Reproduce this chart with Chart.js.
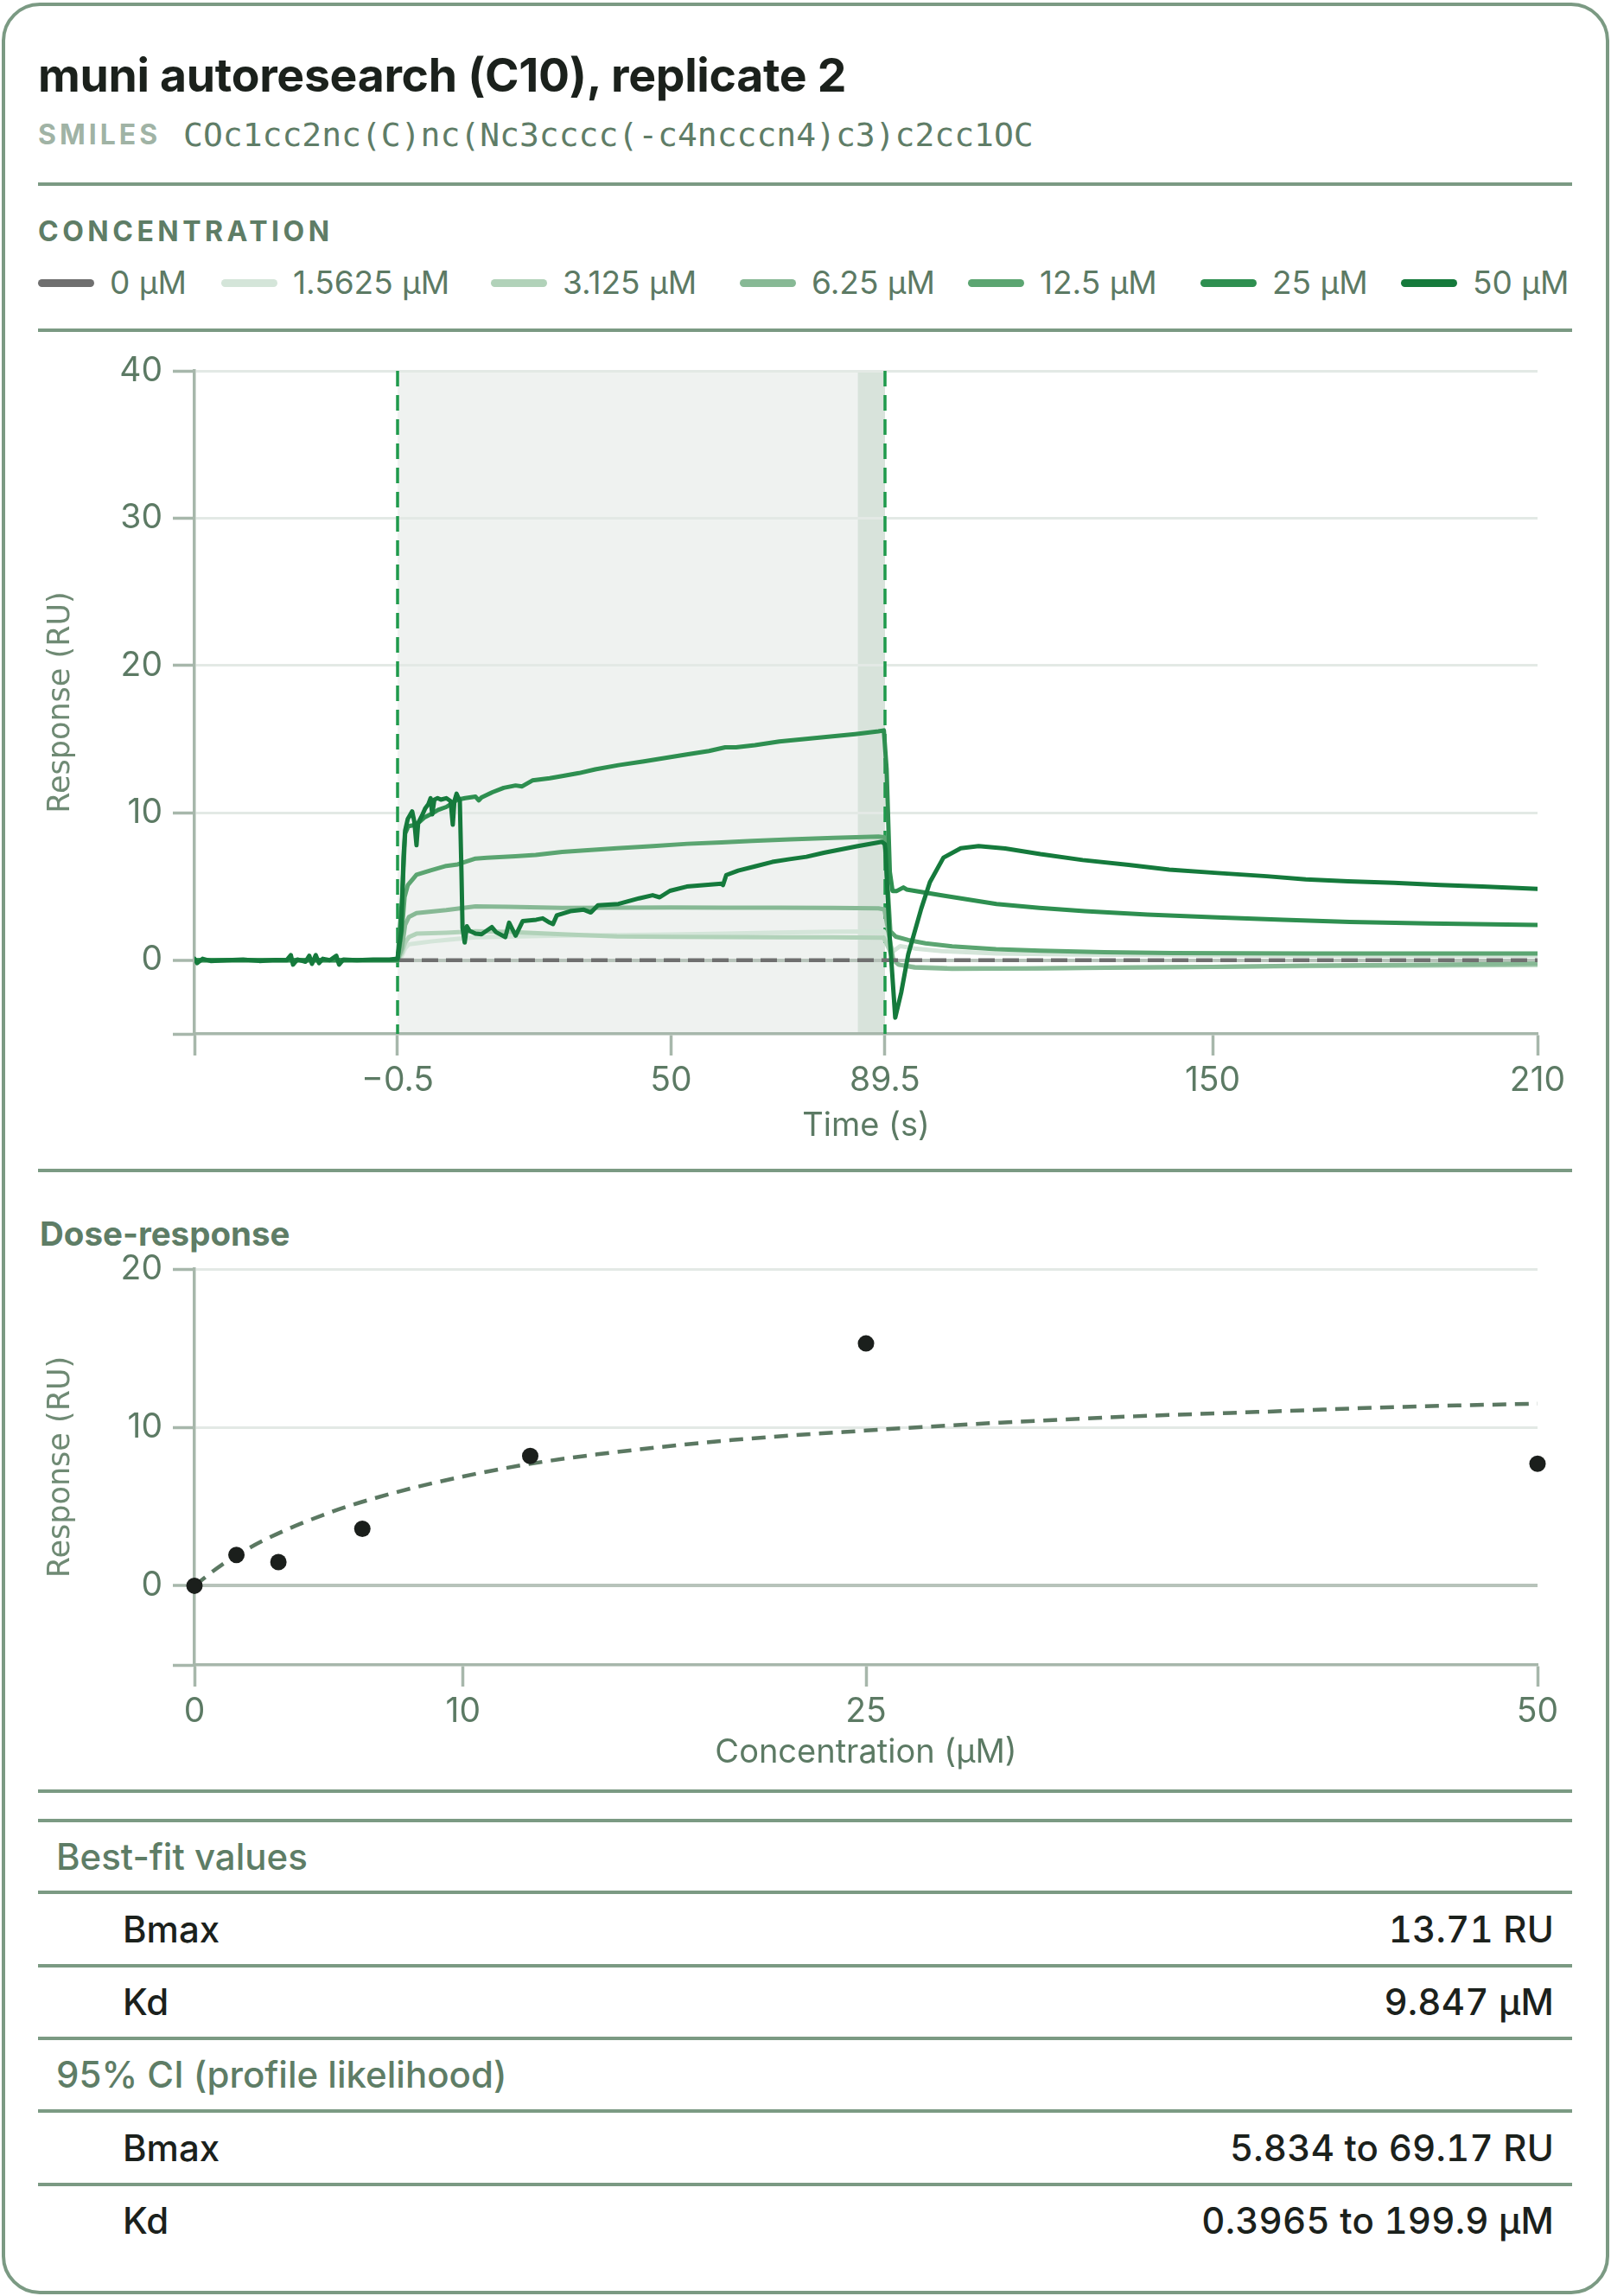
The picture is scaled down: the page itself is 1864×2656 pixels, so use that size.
<!DOCTYPE html>
<html>
<head>
<meta charset="utf-8">
<title>muni autoresearch (C10), replicate 2</title>
<script src="https://cdn.jsdelivr.net/npm/chart.js@4.4.1/dist/chart.umd.min.js"></script>
<style>
  html, body { margin: 0; padding: 0; background: #fff; }
  #page { position: relative; width: 1864px; height: 2656px; overflow: hidden; font-family: Inter, "Noto Sans", sans-serif; }
  .card { position: absolute; left: 2px; top: 3px; width: 1860px; height: 2651px; box-sizing: border-box;
          border: 4px solid #7b9a83; border-radius: 44px; }
  .rule { position: absolute; left: 44px; width: 1775px; height: 4px; background: #7b9a83; }
  .txt { position: absolute; line-height: 1; white-space: nowrap; }
  .title { left: 44px; top: 60px; font-size: 53.5px; font-weight: 700; color: #1b211c; letter-spacing: -0.3px; }
  .smiles-tag { left: 44px; top: 140px; font-size: 32px; font-weight: 700; color: #a0b3a5; letter-spacing: 4px; }
  .smiles { left: 212px; top: 137px; font-size: 38px; font-family: "DejaVu Sans Mono", monospace; color: #5f7d67; }
  .section { font-weight: 700; color: #5e7d66; }
  .swatch { position: absolute; width: 65px; height: 9px; border-radius: 5px; }
  .legend-txt { font-size: 37px; color: #5c7a64; }
  canvas { position: absolute; left: 0; }
  .tbl-head { left: 65px; font-size: 42px; font-weight: 500; color: #5e7d66; }
  .tbl-key { left: 142px; font-size: 42px; font-weight: 500; color: #1b211c; }
  .tbl-val { right: 66px; font-size: 42px; font-weight: 500; color: #1b211c; text-align: right; font-variant-numeric: tabular-nums; letter-spacing: 0.2px; }
</style>
</head>
<body>
<div id="page">
  <div class="card"></div>
  <div class="txt title">muni autoresearch (C10), replicate 2</div>
  <div class="txt smiles-tag">SMILES</div>
  <div class="txt smiles">COc1cc2nc(C)nc(Nc3cccc(-c4ncccn4)c3)c2cc1OC</div>
  <div class="rule" style="top:211px"></div>
  <div class="txt section" style="left:44px; top:252px; font-size:32px; letter-spacing:4.5px;">CONCENTRATION</div>
  <div id="legend"></div>
  <div class="rule" style="top:380px"></div>
  <canvas id="sensorgram" width="1864" height="964" style="top:390px"></canvas>
  <div class="rule" style="top:1352px"></div>
  <div class="txt section" style="left:46px; top:1408px; font-size:38.5px;">Dose-response</div>
  <canvas id="doseResponse" width="1864" height="672" style="top:1400px"></canvas>
  <div id="fitTable"></div>
</div>

<script>
// ─── Sensorgram data ───────────────────────────────────────────────────────
const concLabels = ['0 µM', '1.5625 µM', '3.125 µM', '6.25 µM', '12.5 µM', '25 µM', '50 µM'];

const timeTicks = [-38, -0.5, 50, 89.5, 150, 210];
const timeTickLabels = ['', '−0.5', '50', '89.5', '150', '210'];
const respTicks = [-5, 0, 10, 20, 30, 40];
const respTickLabels = ['', '0', '10', '20', '30', '40'];

const injectWindow = [-0.5, 89.5];
const reportWindow = [84.5, 89.5];

// [time (s), response (RU)]
const trace0 = [[-0.5, 0], [210, 0]];

const trace1_5625 = [[-38, 0], [-0.5, 0], [0.3, 0.3], [0.9, 0.8], [1.6, 1.08], [3, 1.15], [5.6, 1.27], [9, 1.4],
  [13.9, 1.55], [20, 1.6], [29.9, 1.67], [40, 1.7], [50, 1.75], [60, 1.8], [70, 1.88], [80, 1.94], [89.3, 1.95],
  [90.2, 1.3], [91, 0.6], [92.3, 0.95], [95, 0.8], [100, 0.62], [110, 0.45], [125, 0.38], [150, 0.33], [180, 0.3], [210, 0.3]];

const trace3_125 = [[-38, 0], [-0.5, 0], [0.3, 0.5], [0.9, 1.2], [1.6, 1.57], [3, 1.8], [8.5, 1.86], [13.9, 1.96],
  [20, 1.92], [29.9, 1.76], [40, 1.62], [50, 1.58], [60, 1.57], [70, 1.55], [80, 1.55], [89.3, 1.52],
  [90.2, 0.8], [91, 0], [92, -0.3], [95, -0.45], [101, -0.52], [115, -0.55], [130, -0.5], [150, -0.45],
  [170, -0.4], [190, -0.36], [210, -0.32]];

const trace6_25 = [[-38, 0], [-0.5, 0], [0.3, 0.8], [0.9, 2.4], [1.6, 2.94], [3, 3.2], [8.5, 3.4], [13.9, 3.65],
  [20, 3.62], [29.9, 3.55], [40, 3.57], [50, 3.58], [60, 3.57], [70, 3.56], [80, 3.55], [88.3, 3.52], [89.4, 3.45],
  [90.2, 1.8], [91, 0.1], [92, -0.3], [95, -0.5], [101.9, -0.58], [118, -0.55], [134.5, -0.5], [150, -0.45],
  [167.2, -0.36], [190, -0.3], [210, -0.24]];

const trace12_5 = [[-38, 0], [-0.5, 0], [0.3, 2], [0.8, 4.3], [1.4, 5.1], [3, 5.8], [5.6, 6.1], [8.5, 6.4],
  [10.6, 6.5], [13.9, 6.9], [16, 6.95], [21.3, 7.06], [25, 7.15], [29.9, 7.35], [34, 7.45], [40, 7.6], [46.7, 7.75],
  [53, 7.9], [59.3, 8.0], [65, 8.1], [71.9, 8.2], [80, 8.3], [88.3, 8.39], [89.4, 8.35],
  [90, 5], [90.5, 1.96], [91.5, 1.6], [93.8, 1.37], [97, 1.15], [101.9, 0.94], [110, 0.75], [118.2, 0.65],
  [130, 0.55], [142.6, 0.49], [167.2, 0.45], [190, 0.45], [210, 0.45]];

const trace25 = [[-38, 0], [-0.5, 0], [0.3, 4], [0.9, 8.6], [1.5, 9.1], [3, 9.2], [4.5, 9.7], [5.6, 9.9], [7, 10.2],
  [8.5, 10.4], [10.6, 10.9], [12, 11.0], [13.9, 11.1], [14.5, 10.85], [15, 11.05], [17, 11.4], [19.1, 11.7],
  [21.3, 11.86], [22.5, 11.8], [24.4, 12.2], [27.6, 12.35], [29.9, 12.5], [33, 12.7], [36, 12.95], [40.3, 13.24],
  [45, 13.5], [52.9, 13.96], [57, 14.2], [60, 14.45], [62, 14.45], [65.5, 14.6], [70, 14.85], [78.2, 15.14],
  [84, 15.35], [88.3, 15.53], [89.3, 15.6],
  [89.8, 13], [90.4, 6], [90.9, 4.7], [91.7, 4.7], [92.9, 4.94], [93.5, 4.8], [100, 4.4], [110.1, 3.82],
  [118, 3.55], [126.4, 3.33], [138, 3.1], [150.9, 2.9], [163, 2.75], [175.3, 2.6], [190, 2.5], [210, 2.39]];

const trace50 = [[-38, 0.1], [-37.5, -0.2], [-36.5, 0.1], [-35, -0.05], [-32, 0], [-29, 0.05], [-26, -0.05],
  [-23, 0.02], [-21, 0], [-20.2, 0.35], [-19.8, -0.3], [-19, 0.05], [-17.5, -0.1], [-16.8, 0.3], [-16.3, -0.25],
  [-15.6, 0.35], [-15, -0.2], [-14.3, 0.1], [-13, 0], [-11.8, 0.3], [-11.3, -0.3], [-10.5, 0.05], [-8, 0],
  [-5, 0.05], [-2, 0.05], [-0.5, 0.1],
  [0.2, 2], [0.6, 7], [0.9, 8.8], [1.4, 9.6], [2.2, 10.1], [2.6, 9.4], [3.0, 7.8], [3.3, 9.3], [4.0, 9.8],
  [4.6, 10.3], [5.2, 10.6], [5.6, 11.0], [5.9, 9.9], [6.3, 10.9], [6.9, 11.0], [7.5, 10.9], [8.5, 11.0],
  [9.3, 10.8], [9.7, 9.2], [10.0, 10.8], [10.4, 11.3], [11.0, 10.8], [11.3, 6], [11.5, 2.2], [11.9, 1.2],
  [12.3, 2.3], [12.8, 2.0], [13.9, 1.8], [15.0, 1.76], [16.9, 2.25], [17.7, 1.9], [19.4, 1.57], [20.1, 2.55],
  [21.3, 1.67], [22.6, 2.65], [25.1, 2.75], [26.3, 2.84], [27.6, 2.55], [28.2, 2.45], [28.9, 3.04],
  [31.4, 3.33], [33.9, 3.43], [35.2, 3.24], [36.5, 3.73], [40.3, 3.82], [44.1, 4.2], [46.6, 4.41], [47.9, 4.27],
  [49.8, 4.71], [52.9, 5.0], [59.3, 5.2], [59.6, 5.1], [60.2, 5.78], [62.4, 6.08], [65.5, 6.37], [68.7, 6.67],
  [71.9, 6.86], [75.0, 7.02], [78.2, 7.29], [84.5, 7.75], [88.3, 8.0], [88.9, 8.04], [89.5, 7.88],
  [89.6, 7.5], [90.3, 2], [91.4, -3.9], [92.5, -2.2], [93.8, 0.4], [96.2, 3.5], [97.8, 5.3], [100.3, 6.96],
  [103.5, 7.6], [106.8, 7.75], [111.7, 7.59], [118.2, 7.2], [126, 6.8], [134.5, 6.47], [142, 6.15],
  [150.9, 5.92], [160, 5.7], [167.2, 5.49], [175, 5.35], [183.5, 5.25], [192, 5.1], [199.8, 5.0], [210, 4.84]];

const traces = [trace0, trace1_5625, trace3_125, trace6_25, trace12_5, trace25, trace50];

// ─── Dose-response data ────────────────────────────────────────────────────
const doseConc = [0, 1.5625, 3.125, 6.25, 12.5, 25, 50];
const doseResp = [0, 1.95, 1.5, 3.6, 8.2, 15.3, 7.7];
const fitConc = [0, 1, 2.5, 5, 7.5, 10, 12.5, 15, 20, 25, 30, 35, 40, 45, 50];
const fitResp = [0, 1.3, 2.8, 4.6, 5.9, 6.9, 7.7, 8.3, 9.2, 9.8, 10.3, 10.7, 11.0, 11.3, 11.5];
const concTicks = [0, 10, 25, 50];
const doseRespTicks = [-5, 0, 10, 20];
const doseRespTickLabels = ['', '0', '10', '20'];

const bestFitRows = [['Bmax', '13.71 RU'], ['Kd', '9.847 µM']];
const ciRows = [['Bmax', '5.834 to 69.17 RU'], ['Kd', '0.3965 to 199.9 µM']];

// ─── Styles ────────────────────────────────────────────────────────────────
const lineColors = ['#6f6f6f', '#d4e5d9', '#b1d2b9', '#87b995', '#5ba571', '#2e8f50', '#157a3c'];
const drawOrder = [2, 6, 5, 4, 3, 1, 0];
const legendLefts = [44, 256, 568, 856, 1120, 1389, 1621];
const tickGreen = '#5c7a64';
const axisGrey = '#a7b7ab';
const gridLight = '#e3e9e5';
const zeroLine = '#b7c3ba';

Chart.defaults.font.family = 'Inter, "Noto Sans", sans-serif';
Chart.defaults.color = tickGreen;

/* ─── Legend + table (HTML) ─────────────────────────────────────────────── */
const legend = document.getElementById('legend');
concLabels.forEach((lab, i) => {
  const sw = document.createElement('div');
  sw.className = 'swatch';
  sw.style.left = legendLefts[i] + 'px';
  sw.style.top = '323px';
  sw.style.background = lineColors[i];
  legend.appendChild(sw);
  const t = document.createElement('div');
  t.className = 'txt legend-txt';
  t.style.left = (legendLefts[i] + 83) + 'px';
  t.style.top = '308px';
  t.textContent = lab;
  legend.appendChild(t);
});

const table = document.getElementById('fitTable');
[2070, 2104, 2187, 2272, 2356, 2440, 2525].forEach(y => {
  const r = document.createElement('div');
  r.className = 'rule';
  r.style.top = y + 'px';
  table.appendChild(r);
});
function addText(cls, text, centerY) {
  const d = document.createElement('div');
  d.className = 'txt ' + cls;
  d.style.top = (centerY - 21) + 'px';
  d.textContent = text;
  table.appendChild(d);
}
addText('tbl-head', 'Best-fit values', 2147.5);
bestFitRows.forEach((row, i) => {
  addText('tbl-key', row[0], 2231.5 + i * 84.5);
  addText('tbl-val', row[1], 2231.5 + i * 84.5);
});
addText('tbl-head', '95% CI (profile likelihood)', 2400);
ciRows.forEach((row, i) => {
  addText('tbl-key', row[0], 2484.5 + i * 84.5);
  addText('tbl-val', row[1], 2484.5 + i * 84.5);
});

/* ─── Shared axis helpers ───────────────────────────────────────────────── */
const tickFont = { size: 39 };

function yAxis(min, max, ticks, labels, padTop) {
  return {
    type: 'linear', min, max,
    afterBuildTicks: s => { s.ticks = ticks.map(v => ({ value: v })); },
    afterFit: s => { s.width = 225; },
    ticks: { font: tickFont, color: tickGreen, padding: 12, callback: (v, i) => labels[i] },
    grid: {
      color: c => c.tick && c.tick.value === 0 ? zeroLine : (c.tick && c.tick.value === min ? 'rgba(0,0,0,0)' : gridLight),
      lineWidth: c => c.tick && c.tick.value === 0 ? 4 : 3,
      tickColor: axisGrey, tickWidth: 3.5, tickLength: 25
    },
    border: { color: axisGrey, width: 3.5 },
    title: { display: true, text: 'Response (RU)', color: '#6f8a74',
             font: { family: '"DejaVu Sans", sans-serif', size: 35 }, padding: { top: padTop, bottom: 0 } }
  };
}

function xAxis(min, max, ticks, labels, height, title, titlePad) {
  return {
    type: 'linear', min, max,
    afterBuildTicks: s => { s.ticks = ticks.map(v => ({ value: v })); },
    afterFit: s => { s.height = height; },
    ticks: { font: tickFont, color: tickGreen, padding: 6, autoSkip: false, maxRotation: 0, minRotation: 0,
             callback: (v, i) => labels[i] },
    grid: { drawOnChartArea: false, tickColor: axisGrey, tickWidth: 3.5, tickLength: 25 },
    border: { color: axisGrey, width: 3.5 },
    title: { display: true, text: title, color: tickGreen, font: { size: 38 }, padding: { top: 0, bottom: titlePad } }
  };
}

/* ─── Sensorgram ────────────────────────────────────────────────────────── */
const injectionShading = {
  id: 'injectionShading',
  beforeDraw(chart) {
    const { ctx, chartArea: a, scales: { x } } = chart;
    const x0 = x.getPixelForValue(injectWindow[0]);
    const x1 = x.getPixelForValue(injectWindow[1]);
    const r0 = x.getPixelForValue(reportWindow[0]);
    ctx.save();
    ctx.fillStyle = '#eff2f0';
    ctx.fillRect(x0, a.top, x1 - x0, a.bottom - a.top);
    ctx.fillStyle = '#d8e3db';
    ctx.fillRect(r0, a.top, x1 - r0, a.bottom - a.top);
    ctx.restore();
  },
  beforeDatasetsDraw(chart) {
    const { ctx, chartArea: a, scales: { x } } = chart;
    ctx.save();
    ctx.strokeStyle = '#1f9a4c';
    ctx.lineWidth = 3.5;
    ctx.setLineDash([18, 10]);
    injectWindow.forEach(v => {
      const px = Math.round(x.getPixelForValue(v));
      ctx.beginPath();
      ctx.moveTo(px, a.top);
      ctx.lineTo(px, a.bottom);
      ctx.stroke();
    });
    ctx.restore();
  }
};

new Chart(document.getElementById('sensorgram'), {
  type: 'line',
  data: {
    datasets: traces.map((tr, i) => ({
      label: concLabels[i],
      data: tr.map(p => ({ x: p[0], y: p[1] })),
      borderColor: lineColors[i],
      borderWidth: i === 0 ? 4.5 : 5,
      borderDash: i === 0 ? [19, 9] : [],
      borderJoinStyle: 'round',
      borderCapStyle: i === 0 ? 'butt' : 'round',
      pointRadius: 0,
      tension: 0,
      order: drawOrder[i]
    }))
  },
  options: {
    responsive: false,
    animation: false,
    devicePixelRatio: 1,
    layout: { padding: { top: 39, right: 85, bottom: 0, left: 0 } },
    plugins: { legend: { display: false }, tooltip: { enabled: false } },
    scales: {
      x: xAxis(-38, 210, timeTicks, timeTickLabels, 158, 'Time (s)', 29),
      y: yAxis(-5, 40, respTicks, respTickLabels, 50)
    }
  },
  plugins: [injectionShading]
});

/* ─── Dose-response ─────────────────────────────────────────────────────── */
new Chart(document.getElementById('doseResponse'), {
  type: 'line',
  data: {
    datasets: [
      {
        label: 'Measured',
        data: doseConc.map((c, i) => ({ x: c, y: doseResp[i] })),
        showLine: false,
        pointRadius: 9.5,
        pointBackgroundColor: '#1b1f1c',
        pointBorderWidth: 0,
        clip: false,
        order: 0
      },
      {
        label: 'Fit',
        data: fitConc.map((c, i) => ({ x: c, y: fitResp[i] })),
        borderColor: '#5b7862',
        borderWidth: 4.5,
        borderDash: [16, 10],
        pointRadius: 0,
        cubicInterpolationMode: 'monotone',
        order: 1
      }
    ]
  },
  options: {
    responsive: false,
    animation: false,
    devicePixelRatio: 1,
    layout: { padding: { top: 68, right: 85, bottom: 0, left: 0 } },
    plugins: { legend: { display: false }, tooltip: { enabled: false } },
    scales: {
      x: xAxis(0, 50, concTicks, concTicks.map(String), 146, 'Concentration (µM)', 22),
      y: yAxis(-5, 20, doseRespTicks, doseRespTickLabels, 50)
    }
  }
});
</script>
</body>
</html>
